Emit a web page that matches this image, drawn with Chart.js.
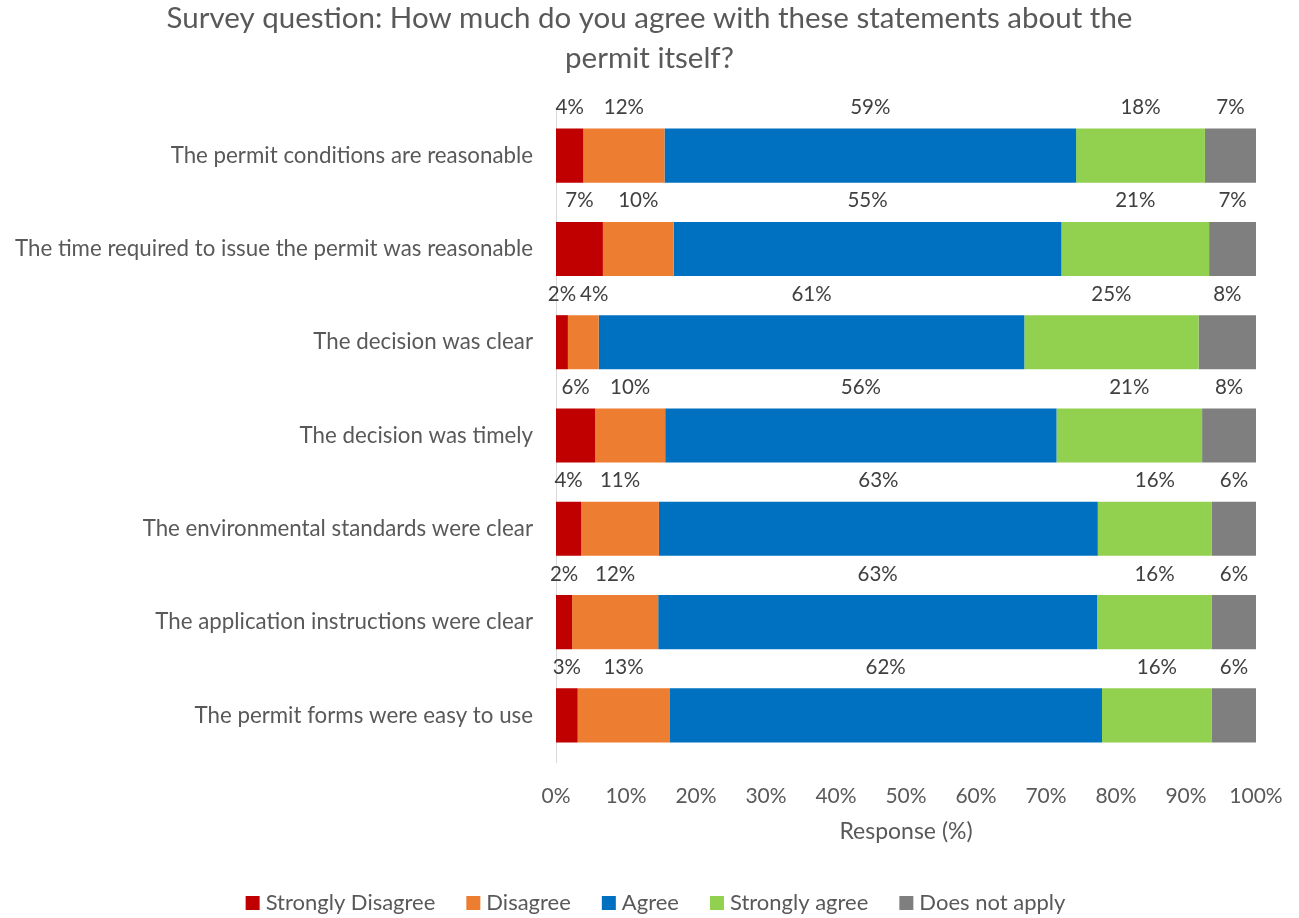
<!DOCTYPE html>
<html>
<head>
<meta charset="utf-8">
<script src="https://cdn.jsdelivr.net/npm/chart.js@4.4.0/dist/chart.umd.min.js"></script>
<style>
  html, body { margin: 0; padding: 0; background: #ffffff; }
  #wrap { width: 1299px; height: 918px; }
</style>
</head>
<body>
<div id="wrap"><canvas id="c" width="1299" height="918"></canvas></div>
<script>
const categories = [
  'The permit conditions are reasonable',
  'The time required to issue the permit was reasonable',
  'The decision was clear',
  'The decision was timely',
  'The environmental standards were clear',
  'The application instructions were clear',
  'The permit forms were easy to use'
];
const stronglyDisagree = [3.9, 6.7, 1.7, 5.6, 3.6, 2.3, 3.1];
const disagree         = [11.6, 10.1, 4.4, 10.0, 11.1, 12.3, 13.1];
const agree            = [58.8, 55.4, 60.8, 55.9, 62.7, 62.7, 61.8];
const stronglyAgree    = [18.4, 21.1, 24.9, 20.8, 16.3, 16.4, 15.7];
const doesNotApply     = [7.3, 6.7, 8.2, 7.7, 6.3, 6.3, 6.3];
const seriesNames = ['Strongly Disagree', 'Disagree', 'Agree', 'Strongly agree', 'Does not apply'];
const xTicks = [0, 10, 20, 30, 40, 50, 60, 70, 80, 90, 100];
const titleLines = ['Survey question: How much do you agree with these statements about the', 'permit itself?'];
const xTitle = 'Response (%)';

const FONT = 'Lato, "Open Sans", sans-serif';
const colors = ['#C00000', '#ED7D31', '#0070C0', '#92D050', '#7F7F7F'];
const seriesData = [stronglyDisagree, disagree, agree, stronglyAgree, doesNotApply];

const labelPlugin = {
  id: 'segLabels',
  afterDatasetsDraw(chart) {
    const ctx = chart.ctx;
    ctx.save();
    ctx.font = '20.5px ' + FONT;
    ctx.fillStyle = '#404040';
    ctx.textAlign = 'center';
    ctx.textBaseline = 'middle';
    const n = chart.data.labels.length;
    for (let i = 0; i < n; i++) {
      let prevRight = -Infinity;
      chart.data.datasets.forEach((ds, d) => {
        const el = chart.getDatasetMeta(d).data[i];
        const p = el.getProps(['x', 'y', 'base', 'height'], true);
        const cx = (p.x + p.base) / 2;
        const txt = Math.round(ds.data[i]) + '%';
        const w = ctx.measureText(txt).width;
        let left = cx - w / 2;
        if (left < prevRight + 4) left = prevRight + 4;
        ctx.fillText(txt, left + w / 2, p.y - p.height / 2 - 21);
        prevRight = left + w;
      });
    }
    ctx.restore();
  }
};

const legendPlugin = {
  id: 'customLegend',
  afterDraw(chart) {
    const ctx = chart.ctx;
    ctx.save();
    ctx.font = '22px ' + FONT;
    ctx.textBaseline = 'middle';
    ctx.textAlign = 'left';
    const box = 14, gapText = 6, gapItem = 31;
    const items = chart.data.datasets.map(ds => ({ text: ds.label, color: ds.backgroundColor, w: ctx.measureText(ds.label).width }));
    let total = 0;
    items.forEach((it, k) => { total += box + gapText + it.w + (k < items.length - 1 ? gapItem : 0); });
    let x = chart.width / 2 + 6 - total / 2;
    const y = 903;
    items.forEach(it => {
      ctx.fillStyle = it.color;
      ctx.fillRect(x, y - box / 2, box, box);
      ctx.fillStyle = '#595959';
      ctx.fillText(it.text, x + box + gapText, y);
      x += box + gapText + it.w + gapItem;
    });
    ctx.restore();
  }
};

new Chart(document.getElementById('c'), {
  type: 'bar',
  data: {
    labels: categories,
    datasets: seriesData.map((arr, k) => ({
      label: seriesNames[k],
      data: arr,
      backgroundColor: colors[k],
      borderWidth: 0,
      categoryPercentage: 0.8,
      barPercentage: 0.725
    }))
  },
  options: {
    indexAxis: 'y',
    responsive: false,
    animation: false,
    layout: { padding: { left: 0, right: 0, top: 0, bottom: 56 } },
    plugins: {
      legend: { display: false },
      tooltip: { enabled: false },
      title: {
        display: true,
        text: titleLines,
        color: '#595959',
        font: { family: FONT, size: 29.5, weight: 'normal', lineHeight: 1.356 },
        padding: { top: -2, bottom: 31 }
      }
    },
    scales: {
      x: {
        stacked: true,
        min: 0,
        max: 100,
        afterBuildTicks(scale) { scale.ticks = xTicks.map(v => ({ value: v })); },
        afterFit(scale) { scale.height = 100; scale.paddingRight = 43; },
        grid: { display: false, drawTicks: false },
        border: { display: false },
        ticks: {
          padding: 22,
          color: '#595959',
          font: { family: FONT, size: 21 },
          callback: v => v + '%',
          maxRotation: 0
        },
        title: {
          display: true,
          text: xTitle,
          color: '#595959',
          font: { family: FONT, size: 23 },
          padding: { top: 0, bottom: 17 }
        }
      },
      y: {
        stacked: true,
        afterFit(scale) { scale.width = 556; },
        grid: { display: false, drawTicks: false },
        border: { display: true, color: '#D9D9D9', width: 1 },
        ticks: {
          padding: 23,
          color: '#595959',
          font: { family: FONT, size: 22.3 }
        }
      }
    }
  },
  plugins: [labelPlugin, legendPlugin]
});
</script>
</body>
</html>
